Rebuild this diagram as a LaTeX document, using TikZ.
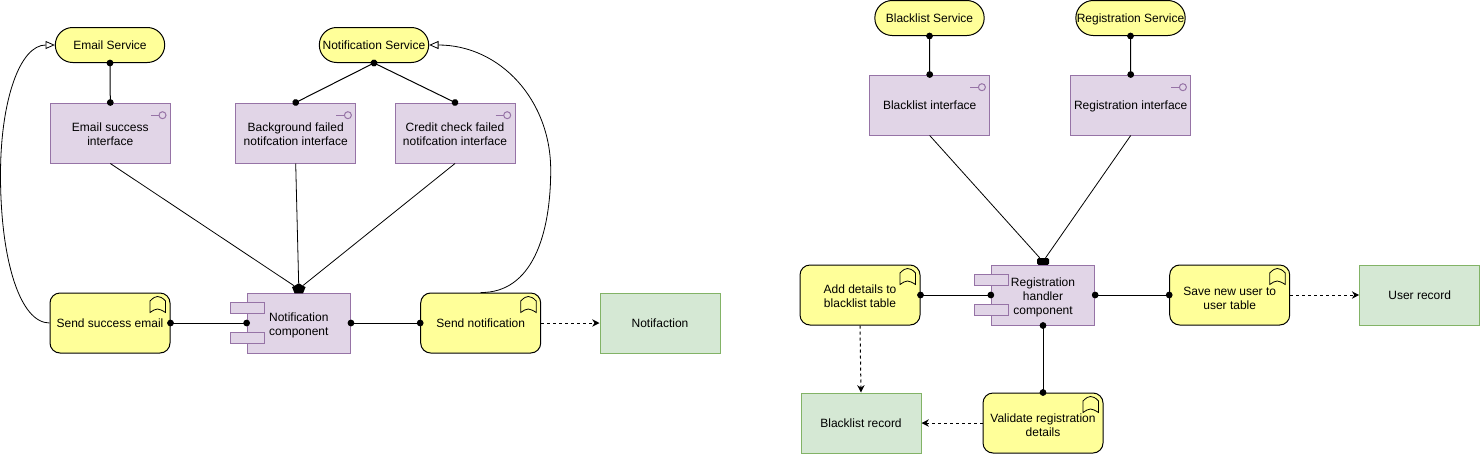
\documentclass[tikz,border=0pt]{standalone}
\usepackage{fontspec}
\setmainfont{Liberation Sans}
\usetikzlibrary{arrows.meta,shapes.geometric,calc}
\def\ifaceicon(#1){\draw[purpleline] ($(#1.north east)+(-20,12.7)$) -- ($(#1.north east)+(-12,12.7)$);
	\draw[purpleline] ($(#1.north east)+(-8.3,12.7)$) circle (3.5);}
\def\bookicon(#1){\draw[line width=0.6pt] ($(#1.north east)+(-20.5,20)$) -- ($(#1.north east)+(-20.5,8.5)$) .. controls ($(#1.north east)+(-17,5)$) and ($(#1.north east)+(-15,4)$) .. ($(#1.north east)+(-13,4)$) .. controls ($(#1.north east)+(-11,4)$) and ($(#1.north east)+(-8,5)$) .. ($(#1.north east)+(-5,8.5)$) -- ($(#1.north east)+(-5,20)$) .. controls ($(#1.north east)+(-8,18)$) and ($(#1.north east)+(-11,16.5)$) .. ($(#1.north east)+(-13,16.5)$) .. controls ($(#1.north east)+(-15,16.5)$) and ($(#1.north east)+(-18,18)$) .. cycle;}
\def\dropline#1{\rule{0pt}{#1pt}}
\definecolor{svcyellow}{HTML}{FFFF99}
\definecolor{ifacepurple}{HTML}{E1D5E7}
\definecolor{purpleedge}{HTML}{9673A6}
\definecolor{datagreen}{HTML}{D5E8D4}
\definecolor{greenedge}{HTML}{82B366}
\tikzset{
	every node/.style={font=\fontsize{9}{10.5}\selectfont, align=center, inner sep=0pt},
	txt/.style={execute at begin node=\rule{0pt}{9.5pt}, execute at end node=\rule[-2.2pt]{0pt}{2.2pt}},
	purpleline/.style={draw=purpleedge, line width=0.75pt},
	service/.style={txt, draw=black, fill=svcyellow, line width=0.75pt, rounded corners=13pt, minimum width=82pt, minimum height=26.25pt},
	iface/.style={txt, purpleline, fill=ifacepurple, minimum width=90pt, minimum height=45pt},
	comp/.style={txt, purpleline, fill=ifacepurple, minimum width=77.5pt, minimum height=45pt},
	prong/.style={purpleline, fill=ifacepurple, minimum width=26pt, minimum height=8pt},
	proc/.style={txt, draw=black, fill=svcyellow, line width=0.75pt, rounded corners=7.5pt, minimum width=90pt, minimum height=45pt},
	rec/.style={txt, draw=greenedge, fill=datagreen, line width=0.75pt, minimum width=90pt, minimum height=45pt},
	dotline/.style={line width=0.75pt, {Circle[length=5pt]}-{Circle[length=5pt]}, shorten <=-2.5pt, shorten >=-2.5pt},
	thinline/.style={line width=0.6pt},
	dashline/.style={line width=0.75pt, dash pattern=on 2.25pt off 2.25pt, -{Stealth[length=5.5pt,width=5.5pt]}},
	openline/.style={line width=0.6pt, -{Triangle[open,fill=white,length=7pt,width=6pt]}},
}
\begin{document}
\begin{tikzpicture}[x=0.75pt,y=-0.75pt]
		%%%%% LEFT %%%%%
		\useasboundingbox (0,0) rectangle (1480,454);
		
		\node[service] (emailsvc) at (110,45) {Email Service};
		\node[service] (notifsvc) at (374,45) {Notification Service};
		
		\node[iface] (emailif) at (110.3,133) {\dropline{10}Email success\\interface};
		\node[iface] (bgif) at (295.7,133) {\dropline{10}Background failed\\notifcation interface};
		\node[iface] (creditif) at (455,133) {\dropline{10}Credit check failed\\notifcation interface};
		\ifaceicon(emailif)
		\ifaceicon(bgif)
		\ifaceicon(creditif)
		
		\node[comp] (notifcomp) at (298.8,323) {\dropline{10}Notification\\component};
		\node[prong] (ncupper) at (247.5,308) {};
		\node[prong] (nclower) at (247.5,338) {};
		
		\node[proc] (sendmail) at (110,323) {Send success email};
		\node[proc] (sendnotif) at (480.7,323) {Send notification};
		\bookicon(sendmail)
		\bookicon(sendnotif)
		\node[rec] (notifrec) at (660,323) {Notifaction};
		
		\node[regular polygon, regular polygon sides=5, fill=black, minimum size=8.5pt, transform shape, xscale=1.25] (nctip) at (298.8,288.9) {};
		
		\draw[dotline] (emailsvc.south) -- (emailif.north);
		\draw[dotline] (notifsvc.south) -- (bgif.north);
		\draw[dotline] (notifsvc.south) -- (creditif.north);
		\draw[thinline] (emailif.south) -- (nctip);
		\draw[thinline] (bgif.south) -- (nctip);
		\draw[thinline] (creditif.south) -- (nctip);
		\draw[dotline] (sendmail.east) -- (notifcomp.west);
		\draw[dotline] (notifcomp.east) -- (sendnotif.west);
		\draw[dashline] (sendnotif.east) -- (notifrec.west);
		\draw[openline] (sendmail.west) .. controls (20,323) and (0.5,260) .. (0.5,175) .. controls (0.5,100) and (20,45) .. (emailsvc.west);
		\draw[openline] (sendnotif.north) .. controls (532,293) and (550.7,235) .. (550.7,170) .. controls (550.7,100) and (500,45) .. (notifsvc.east);
		
		%%%%% RIGHT %%%%%
		\node[service] (blacksvc) at (929.5,18) {Blacklist Service};
		\node[service] (regsvc) at (1130.5,18) {Registration Service};
		
		\node[iface] (blackif) at (929.7,105) {Blacklist interface};
		\node[iface] (regif) at (1130.7,105) {Registration interface};
		\ifaceicon(blackif)
		\ifaceicon(regif)
		
		\node[comp] (regcomp) at (1043,295) {\dropline{10}Registration\\handler\\component};
		\node[prong] (rcupper) at (991.5,280) {};
		\node[prong] (rclower) at (991.5,310) {};
		
		\node[proc] (addblack) at (860,295) {\dropline{10}Add details to\\blacklist table};
		\node[proc] (saveuser) at (1229.7,295) {\dropline{14}Save new user to\\user table};
		\node[proc] (validate) at (1043,423) {\dropline{12}Validate registration\\details};
		\bookicon(addblack)
		\bookicon(saveuser)
		\bookicon(validate)
		\node[rec] (userrec) at (1419.7,295) {User record};
		\node[rec] (blackrec) at (861,423) {Blacklist record};
		
		\node[fill=black, rounded corners=1pt, minimum width=9pt, minimum height=5pt] (rctip) at (1043,261.5) {};
		
		\draw[dotline] (blacksvc.south) -- (blackif.north);
		\draw[dotline] (regsvc.south) -- (regif.north);
		\draw[thinline] (blackif.south) -- (rctip);
		\draw[thinline] (regif.south) -- (rctip);
		\draw[dotline] (addblack.east) -- (regcomp.west);
		\draw[dotline] (regcomp.east) -- (saveuser.west);
		\draw[dotline] (regcomp.south) -- (validate.north);
		\draw[dashline] (saveuser.east) -- (userrec.west);
		\draw[dashline] (addblack.south) -- (blackrec.north);
		\draw[dashline] (validate.west) -- (blackrec.east);
		
		%%%%% END %%%%%
	\end{tikzpicture}
\end{document}
